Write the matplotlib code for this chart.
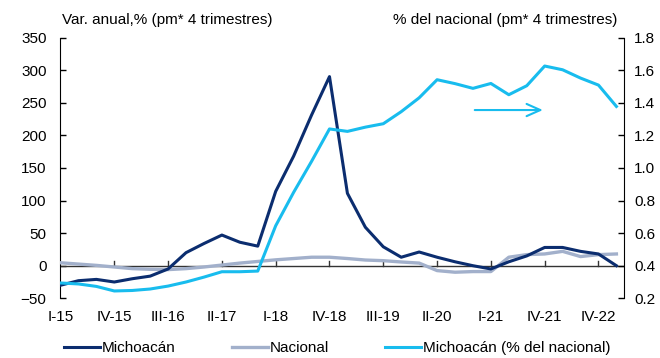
import matplotlib
matplotlib.use("Agg")
import matplotlib.pyplot as plt
from matplotlib.lines import Line2D
from matplotlib.transforms import blended_transform_factory

plt.rcParams['font.family'] = ['Liberation Sans', 'DejaVu Sans']
plt.rcParams['font.size'] = 11

# Quarterly series, I-15 .. IV-22
michoacan = [-30, -23, -21, -25, -20, -16, -5, 20, 34, 47, 36, 30,
             114, 168, 231, 290, 111, 59, 29, 13, 21, 13, 6, 0,
             -5, 6, 15, 28, 28, 22, 18, 0]
nacional = [4.5, 2.5, 0.5, -2, -4.5, -5.5, -6, -4.5, -2, 1, 4, 6.5,
            9, 11, 13, 13, 11, 8.7, 7.7, 5.7, 4, -7.5, -10, -9,
            -9, 13, 17, 18, 22, 14, 17, 18]
mich_pct_nac = [0.294, 0.288, 0.273, 0.245, 0.248, 0.257, 0.275, 0.30, 0.33, 0.363, 0.363, 0.367,
                0.645, 0.85, 1.04, 1.239, 1.224, 1.25, 1.271, 1.345, 1.43, 1.541, 1.517, 1.488,
                1.518, 1.449, 1.504, 1.625, 1.602, 1.551, 1.508, 1.377]
tick_pos = [0, 3, 6, 9, 12, 15, 18, 21, 24, 27, 30]
tick_labels = ["I-15", "IV-15", "III-16", "II-17", "I-18", "IV-18",
               "III-19", "II-20", "I-21", "IV-21", "IV-22"]

c_mich = "#0B2D6F"
c_nac = "#A2B0CB"
c_pct = "#18BCEE"

W, H = 660, 358
fig = plt.figure(figsize=(W / 100, H / 100), dpi=100)
left, right, top, bottom = 60.5, 624.3, 37.5, 298.3
ax = fig.add_axes([left / W, 1 - bottom / H, (right - left) / W, (bottom - top) / H])
ax2 = ax.twinx()

x = list(range(len(michoacan)))
ax.plot(x, nacional, color=c_nac, lw=2.4, zorder=3)
ax.plot(x, michoacan, color=c_mich, lw=2.2, zorder=4)
ax2.plot(x, mich_pct_nac, color=c_pct, lw=2.2, zorder=4)

ax.set_xlim(0, 31.44)
ax.set_ylim(-50, 350)
ax2.set_ylim(0.2, 1.8)
ax.set_yticks(range(-50, 351, 50))
ax2.set_yticks([0.2, 0.4, 0.6, 0.8, 1.0, 1.2, 1.4, 1.6, 1.8])
ax2.set_yticklabels([f"{v:.1f}" for v in ax2.get_yticks()])

for a in (ax, ax2):
    a.spines['top'].set_visible(False)
    a.spines['bottom'].set_visible(False)
    a.set_facecolor('none')
ax.spines['right'].set_visible(False)
ax2.spines['left'].set_visible(False)
ax.spines['left'].set_color('black')
ax2.spines['right'].set_color('black')
ax.tick_params(axis='y', direction='in', length=4, width=1, labelsize=11, pad=10)
ax2.tick_params(axis='y', direction='in', length=4, width=1, labelsize=11, pad=7)

# Category axis drawn through zero, labels along the bottom
ax.axhline(0, color='#333333', lw=1, zorder=2)
ax.set_xticks([])
trans = blended_transform_factory(ax.transData, ax.transAxes)
for p, lab in zip(tick_pos, tick_labels):
    if p > 0:
        ax.plot([p, p], [0, 7], color='#333333', lw=1, zorder=2, clip_on=False)
    ax.text(p, -0.072, lab, transform=trans, ha='center', va='center', fontsize=11)

# Arrow pointing to the right-hand axis series
ax2.annotate("", xy=(26.9, 1.355), xytext=(23.1, 1.355),
             arrowprops=dict(arrowstyle='->,head_length=0.9,head_width=0.4',
                             color=c_pct, lw=1.5, shrinkA=0, shrinkB=0))

fig.text(62 / W, 1 - 20 / H, "Var. anual,% (pm* 4 trimestres)", ha='left', va='center', fontsize=11)
fig.text(617 / W, 1 - 20 / H, "% del nacional (pm* 4 trimestres)", ha='right', va='center', fontsize=11)

# Legend entries placed individually along the bottom
entries = [(Line2D([], [], color=c_mich, lw=2.2), "Michoacán", 64),
           (Line2D([], [], color=c_nac, lw=2.4), "Nacional", 232),
           (Line2D([], [], color=c_pct, lw=2.2), "Michoacán (% del nacional)", 385)]
for handle, label, xpix in entries:
    fig.legend([handle], [label], loc='center left', bbox_to_anchor=(xpix / W, 1 - 348 / H),
               frameon=False, handlelength=2.35, handletextpad=0.12,
               fontsize=11, borderaxespad=0, borderpad=0)

fig.savefig("out.png", dpi=100)
